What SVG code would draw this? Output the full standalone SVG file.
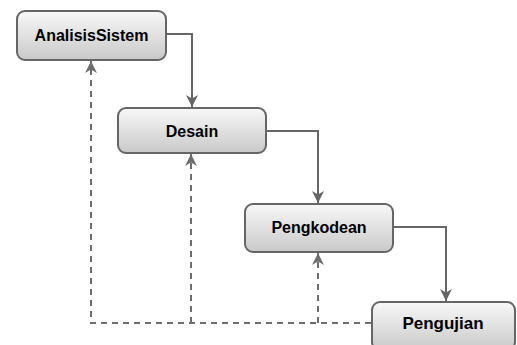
<svg xmlns="http://www.w3.org/2000/svg" width="517" height="345" viewBox="0 0 517 345">
<defs>
<linearGradient id="g" x1="0" y1="0" x2="0" y2="1">
<stop offset="0" stop-color="#f8f8f8"/>
<stop offset="1" stop-color="#c9c9c9"/>
</linearGradient>
<marker id="ah" viewBox="0 0 10 10" refX="10" refY="5" markerWidth="6" markerHeight="6" markerUnits="strokeWidth" orient="auto">
<path d="M0,0 L10,5 L0,10 L3,5 Z" fill="#666"/>
</marker>
<marker id="ahd" viewBox="0 0 10 10" refX="10" refY="5" markerWidth="6" markerHeight="6" markerUnits="strokeWidth" orient="auto">
<path d="M0,0 L10,5 L0,10 L3,5 Z" fill="#6e6e6e"/>
</marker>
</defs>
<style>
.box{fill:url(#g);stroke:#666;stroke-width:2}
.lbl{font-family:"Liberation Sans",Arial,sans-serif;font-weight:bold;font-size:16px;fill:#000;text-anchor:middle}
.c{fill:none;stroke:#666;stroke-width:2}
.d{fill:none;stroke:#6e6e6e;stroke-width:2;stroke-dasharray:6,5}
</style>
<rect width="517" height="345" fill="#fff"/>
<g id="connectors">
<path class="c" d="M166,34 H192 V107" marker-end="url(#ah)"/>
<path class="c" d="M266,131 H318 V203" marker-end="url(#ah)"/>
<path class="c" d="M393,227 H446 V301" marker-end="url(#ah)"/>
<path class="d" d="M371,323 H91 V61" marker-end="url(#ahd)"/>
<path class="d" d="M191,323 V154" marker-end="url(#ahd)"/>
<path class="d" d="M318,323 V253" marker-end="url(#ahd)"/>
</g>
<g id="analisis">
<rect class="box" x="17" y="11" width="149" height="49" rx="8"/>
<text class="lbl" x="91.5" y="41">AnalisisSistem</text>
</g>
<g id="desain">
<rect class="box" x="118" y="108" width="148" height="45" rx="8"/>
<text class="lbl" x="192" y="137">Desain</text>
</g>
<g id="pengkodean">
<rect class="box" x="245" y="204" width="148" height="48" rx="8"/>
<text class="lbl" x="319" y="233">Pengkodean</text>
</g>
<g id="pengujian">
<rect class="box" x="372" y="302" width="143" height="48" rx="8"/>
<text class="lbl" x="443" y="329" style="font-size:17px">Pengujian</text>
</g>
</svg>
